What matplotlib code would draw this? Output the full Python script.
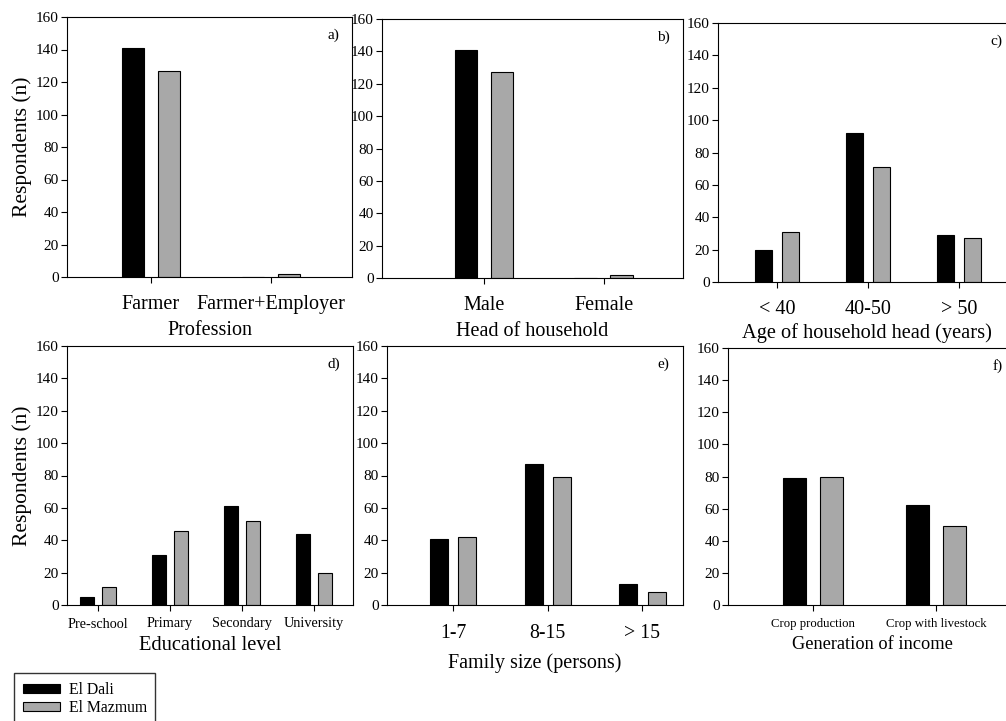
import matplotlib
matplotlib.use("Agg")
import matplotlib.pyplot as plt
from matplotlib.patches import Patch
import numpy as np

plt.rcParams['font.family'] = ['Liberation Serif', 'DejaVu Serif']

# --- data: respondents per site ---
sites = ["El Dali", "El Mazmum"]
colors = ["black", "#a8a8a8"]

profession = ["Farmer", "Farmer+Employer"]
profession_dali = [141, 0]
profession_mazmum = [127, 2]

head = ["Male", "Female"]
head_dali = [141, 0]
head_mazmum = [127, 2]

age = ["< 40", "40-50", "> 50"]
age_dali = [20, 92, 29]
age_mazmum = [31, 71, 27]

education = ["Pre-school", "Primary", "Secondary", "University"]
education_dali = [5, 31, 61, 44]
education_mazmum = [11, 46, 52, 20]

family = ["1-7", "8-15", "> 15"]
family_dali = [41, 87, 13]
family_mazmum = [42, 79, 8]

income = ["Crop production", "Crop with livestock"]
income_dali = [79, 62]
income_mazmum = [80, 49]

W, H = 1006, 721
fig = plt.figure(figsize=(W / 100, H / 100), dpi=100)


def px_axes(left, right, top, bottom):
    return fig.add_axes([left / W, 1 - bottom / H, (right - left) / W, (bottom - top) / H])


def panel(ax, cats, dali, mazmum, xlim, xlabel, tag, tick_size, label_size, ylabel=False,
          tick_pad=2, label_pad=2):
    x = np.arange(len(cats))
    ax.bar(x - 0.15, dali, width=0.19, color=colors[0], edgecolor="black", linewidth=0.8)
    ax.bar(x + 0.15, mazmum, width=0.19, color=colors[1], edgecolor="black", linewidth=0.8)
    ax.set_xlim(*xlim)
    ax.set_ylim(0, 160)
    ax.set_yticks(range(0, 161, 20))
    ax.set_xticks(x)
    ax.set_xticklabels(cats, fontsize=tick_size)
    ax.tick_params(axis="y", labelsize=11, direction="out", length=4, width=0.8, pad=2)
    ax.tick_params(axis="x", direction="out", length=4, width=0.8, pad=tick_pad)
    for s in ax.spines.values():
        s.set_linewidth(0.8)
    ax.set_xlabel(xlabel, fontsize=label_size, labelpad=label_pad)
    if ylabel:
        ax.set_ylabel("Respondents (n)", fontsize=15.5, labelpad=3)
    ax.text(0.955, 0.93, tag, transform=ax.transAxes, ha="right", va="center", fontsize=11)


ax_a = px_axes(67, 352, 17, 277)
panel(ax_a, profession, profession_dali, profession_mazmum, (-0.70, 1.675),
      "Profession", "a)", 14.5, 14.5, ylabel=True, tick_pad=9, label_pad=5)

ax_b = px_axes(382, 683, 19, 278)
panel(ax_b, head, head_dali, head_mazmum, (-0.85, 1.66),
      "Head of household", "b)", 14.5, 14.5, tick_pad=9, label_pad=5)

ax_c = px_axes(718, 1016, 23, 282)
panel(ax_c, age, age_dali, age_mazmum, (-0.65, 2.63),
      "Age of household head (years)", "c)", 14.5, 14.7, tick_pad=9, label_pad=3)

ax_d = px_axes(67, 353, 346, 605)
panel(ax_d, education, education_dali, education_mazmum, (-0.43, 3.54),
      "Educational level", "d)", 10.3, 14.8, ylabel=True, tick_pad=5, label_pad=4)

ax_e = px_axes(387, 683, 346, 605)
panel(ax_e, family, family_dali, family_mazmum, (-0.70, 2.43),
      "Family size (persons)", "e)", 14.3, 14.5, tick_pad=10, label_pad=7)

ax_f = px_axes(728, 1016, 348, 605)
panel(ax_f, income, income_dali, income_mazmum, (-0.69, 1.65),
      "Generation of income", "f)", 9.2, 13.2, tick_pad=5, label_pad=5)

handles = [Patch(facecolor=colors[i], edgecolor="black", linewidth=0.8, label=sites[i])
           for i in range(2)]
fig.legend(handles=handles, loc="upper left", bbox_to_anchor=(14 / W, 1 - 673 / H),
           fontsize=11.3, frameon=True, fancybox=False, edgecolor="black",
           handlelength=2.36, handleheight=0.5, borderpad=0.55, labelspacing=0.15,
           handletextpad=0.57, borderaxespad=0)

fig.savefig("out.png", dpi=100)
